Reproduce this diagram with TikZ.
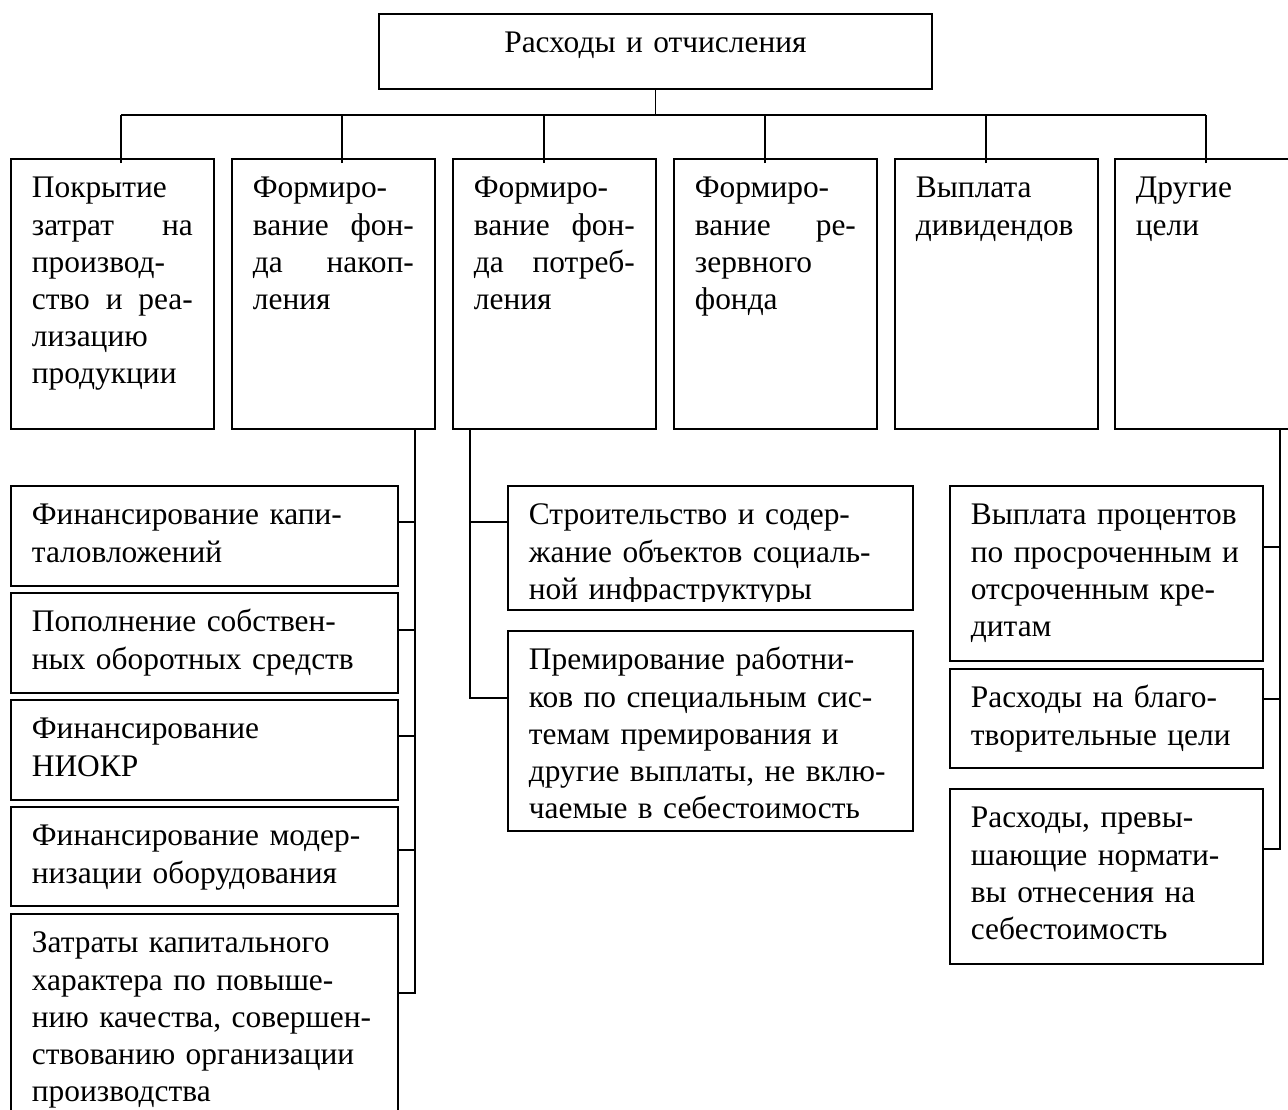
\documentclass[tikz,border=0pt]{standalone}
\usepackage{fontspec}
\setmainfont{Liberation Serif}

\newcommand{\cellfont}{\fontsize{15.7pt}{18.6pt}\selectfont}

\tikzset{
    cell/.style={draw, line width=0.9pt, anchor=north west, inner xsep=10.5pt,
        inner ysep=0pt, align=left, font=\cellfont, text height=19.5pt},
    link/.style={line width=0.8pt},
}

\begin{document}
\begin{tikzpicture}[x=0.5pt, y=-0.5pt]
    \useasboundingbox (0,0) rectangle (1288,1109);

    % root
    \node[cell, align=center, text width=255.5pt, text depth=18pt] (root) at (378,13) {Расходы и отчисления};

    % first level
    \node[cell, text width=80.5pt, text depth=115.5pt] (cover) at (10,158) {Покрытие\\затрат\hfill на\\производ-\\ство\hfill и\hfill реа-\\лизацию\\продукции};
    \node[cell, text width=80.5pt, text depth=115.5pt] (accum) at (231,158) {Формиро-\\вание\hfill фон-\\да\hfill накоп-\\ления};
    \node[cell, text width=80.5pt, text depth=115.5pt] (consum) at (452,158) {Формиро-\\вание\hfill фон-\\да\hfill потреб-\\ления};
    \node[cell, text width=80.5pt, text depth=115.5pt] (reserve) at (673,158) {Формиро-\\вание\hfill ре-\\зервного\\фонда};
    \node[cell, text width=80.5pt, text depth=115.5pt] (divid) at (894,158) {Выплата\\дивидендов};
    \node[cell, text width=80.5pt, text depth=115.5pt] (other) at (1114,158) {Другие\\цели};

    % accumulation fund
    \node[cell, text width=172.5pt, text depth=30.5pt] (capinv) at (10,485) {Финансирование капи-\\таловложений};
    \node[cell, text width=172.5pt, text depth=30.5pt] (ownfunds) at (10,592) {Пополнение собствен-\\ных оборотных средств};
    \node[cell, text width=172.5pt, text depth=30.5pt] (rnd) at (10,699) {Финансирование\\НИОКР};
    \node[cell, text width=172.5pt, text depth=30pt] (modern) at (10,806) {Финансирование модер-\\низации оборудования};
    \node[cell, text width=172.5pt, text depth=95.5pt] (quality) at (10,913) {Затраты капитального\\характера по повыше-\\нию качества, совершен-\\ствованию организации\\производства};

    % consumption fund
    \node[cell, text width=181.5pt, text depth=42.5pt] (social) at (507,485) {};
    \begin{scope}
        \clip (social.north west) rectangle ([yshift=4.5pt]social.south east);
        \node[cell, draw=none, text width=181.5pt, text depth=42.5pt] at (social.north west) {Строительство и содер-\\жание объектов социаль-\\ной инфраструктуры};
    \end{scope}
    \node[cell, text width=181.5pt, text depth=80.5pt] (bonus) at (507,630) {Премирование работни-\\ков по специальным сис-\\темам премирования и\\другие выплаты, не вклю-\\чаемые в себестоимость};

    % other goals
    \node[cell, text width=135.5pt, text depth=68pt] (interest) at (949,485) {Выплата процентов\\по просроченным и\\отсроченным кре-\\дитам};
    \node[cell, text width=135.5pt, text depth=30pt] (charity) at (949,668) {Расходы на благо-\\творительные цели};
    \node[cell, text width=135.5pt, text depth=68pt] (excess) at (949,788) {Расходы, превы-\\шающие нормати-\\вы отнесения на\\себестоимость};

    % connectors
    \draw[link] (root.south) -- ++(0,-12.5pt) coordinate (bus);
    \foreach \n/\dx in {cover/55.5, accum/55.5, consum/46, reserve/46, divid/46, other/46}{
        \coordinate (\n-in) at ([xshift=\dx pt, yshift=-2.5pt]\n.north west);
        \draw[link] (\n-in) -- (\n-in |- bus);
    }
    \draw[link] (cover-in |- bus) -- (other-in |- bus);

    \coordinate (accTop) at ([xshift=92pt]accum.south west);
    \foreach \n/\dy in {capinv/18.5, ownfunds/19, rnd/18.5, modern/22, quality/40}
        \draw[link] ([yshift=-\dy pt]\n.north east) -| (accTop);

    \coordinate (conTop) at ([xshift=9pt]consum.south west);
    \foreach \n/\dy in {social/18.5, bonus/34}
        \draw[link] ([yshift=-\dy pt]\n.north west) -| (conTop);

    \coordinate (othTop) at ([xshift=83pt]other.south west);
    \foreach \n/\dy in {interest/31, charity/15.5, excess/30.5}
        \draw[link] ([yshift=-\dy pt]\n.north east) -| (othTop);
\end{tikzpicture}
\end{document}
